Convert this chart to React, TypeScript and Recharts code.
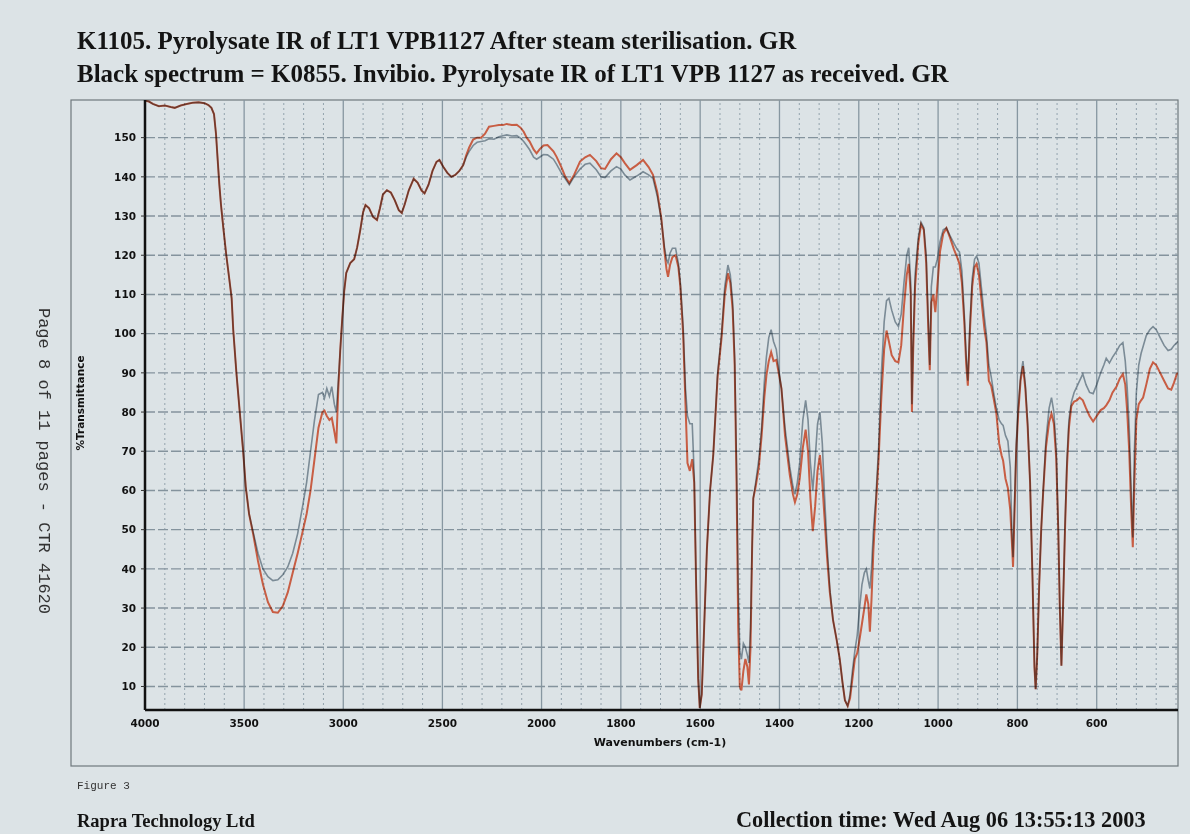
import React from 'react';
import { LineChart, Line, XAxis, YAxis, ReferenceLine } from 'recharts';

// Wavenumbers (cm-1), descending
const wavenumbers = [
  4000, 3980, 3960, 3930, 3900, 3870, 3850, 3820, 3790, 3760, 3730, 3700, 3680, 3665, 3652, 3642, 3633, 3625, 3617, 3605,
  3590, 3575, 3563, 3555, 3539, 3522, 3505, 3492, 3475, 3455, 3430, 3405, 3380, 3355, 3330, 3305, 3280, 3255, 3230, 3205,
  3185, 3165, 3145, 3125, 3105, 3095, 3083, 3070, 3058, 3045, 3035, 3025, 3015, 3005, 2995, 2985, 2965, 2945, 2930, 2914,
  2900, 2888, 2870, 2850, 2830, 2815, 2800, 2780, 2760, 2740, 2720, 2705, 2690, 2670, 2645, 2625, 2605, 2590, 2570, 2550,
  2530, 2515, 2495, 2475, 2455, 2435, 2415, 2395, 2380, 2365, 2345, 2325, 2305, 2285, 2265, 2240, 2215, 2195, 2175, 2150,
  2125, 2105, 2090, 2075, 2060, 2040, 2025, 2010, 1995, 1985, 1970, 1962, 1950, 1940, 1930, 1918, 1903, 1890, 1878, 1862,
  1850, 1840, 1825, 1811, 1800, 1790, 1777, 1760, 1744, 1730, 1719, 1708, 1698, 1690, 1685, 1681, 1676, 1670, 1662, 1655,
  1650, 1643, 1637, 1632, 1626, 1620, 1615, 1610, 1605, 1601, 1596, 1590, 1583, 1575, 1567, 1556, 1546, 1538, 1530, 1524,
  1518, 1513, 1508, 1504, 1500, 1496, 1491, 1486, 1481, 1477, 1473, 1469, 1466, 1460, 1452, 1445, 1438, 1433, 1427, 1421,
  1415, 1408, 1402, 1395, 1386, 1374, 1366, 1361, 1355, 1349, 1341, 1334, 1328, 1322, 1316, 1310, 1304, 1298, 1292, 1287,
  1280, 1273, 1265, 1256, 1248, 1241, 1235, 1228, 1222, 1216, 1210, 1204, 1198, 1192, 1186, 1181, 1176, 1172, 1168, 1163,
  1157, 1150, 1143, 1136, 1130, 1124, 1117, 1108, 1100, 1093, 1086, 1079, 1074, 1069, 1066, 1063, 1058, 1050, 1043, 1036,
  1030, 1025, 1021, 1017, 1012, 1007, 1002, 995, 987, 979, 970, 960, 952, 946, 940, 934, 929, 925, 920, 914,
  908, 903, 897, 890, 883, 878, 872, 866, 860, 853, 846, 840, 836, 830, 824, 818, 814, 811, 807, 803,
  798, 792, 786, 780, 774, 768, 762, 757, 754, 750, 745, 740, 735, 728, 720, 714, 708, 702, 697, 693,
  689, 685, 680, 675, 670, 664, 657, 650, 643, 635, 627, 618, 609, 600, 590, 582, 576, 568, 560, 550,
  542, 534, 528, 523, 518, 513, 509, 505, 500, 494, 488, 483, 475, 466, 458, 450, 440, 430, 420, 412,
  405, 398, 395,
];

// K1105 – after steam sterilisation (red spectrum), %T
const afterSterilisation = [
  159.4, 159.2, 158.6, 158.0, 158.2, 157.8, 157.6, 158.2, 158.6, 158.9, 159.0, 158.8, 158.3, 157.6, 156.0, 151.0, 144.0, 138.0, 133.0, 127.0,
  120.0, 114.0, 109.0, 101.0, 90.0, 80.0, 70.0, 61.0, 54.0, 49.0, 42.0, 36.0, 31.5, 29.0, 28.8, 30.5, 34.0, 39.0, 44.0, 49.5,
  54.0, 60.0, 68.0, 76.0, 80.0, 80.4, 79.0, 78.0, 78.5, 75.0, 72.0, 86.0, 96.0, 104.0, 111.0, 115.5, 118.0, 119.0, 122.0, 126.5,
  131.0, 132.8, 132.0, 129.8, 129.0, 132.0, 135.5, 136.6, 136.0, 134.0, 131.5, 130.8, 133.0, 136.5, 139.5, 138.5, 136.5, 135.8, 138.0, 141.5,
  143.8, 144.3, 142.5, 141.0, 140.0, 140.5, 141.5, 143.0, 145.5, 147.5, 149.5, 150.0, 150.0, 151.0, 152.8, 153.0, 153.2, 153.2, 153.5, 153.2,
  153.3, 152.5, 151.5, 150.0, 149.0, 147.0, 146.0, 147.0, 148.0, 148.1, 146.5, 145.1, 142.5, 140.0, 138.4, 140.5, 143.9, 145.0, 145.6, 144.0,
  142.2, 142.0, 144.5, 146.0, 145.0, 143.5, 141.8, 143.0, 144.3, 142.5, 140.5, 136.0, 129.5, 121.0, 116.5, 114.5, 117.5, 119.5, 120.0, 117.0,
  112.0, 100.0, 82.0, 67.0, 65.0, 68.0, 62.0, 35.0, 12.0, 4.5, 8.0, 25.0, 45.0, 60.0, 69.0, 89.0, 99.0, 110.0, 115.4, 113.0,
  106.0, 92.0, 60.0, 25.0, 10.0, 9.0, 14.0, 17.0, 15.0, 10.5, 20.0, 45.0, 58.0, 61.0, 66.0, 74.0, 84.0, 89.3, 93.0, 95.3,
  93.0, 93.3, 90.0, 86.0, 74.0, 64.0, 59.0, 57.0, 59.0, 63.0, 71.0, 75.5, 70.0, 58.0, 49.6, 56.0, 65.0, 69.0, 62.0, 54.0,
  43.0, 34.0, 27.0, 22.0, 17.0, 11.0, 6.5, 5.0, 7.0, 12.0, 17.0, 18.5, 22.0, 26.0, 30.0, 33.5, 31.0, 24.0, 32.0, 45.0,
  56.0, 68.0, 84.0, 96.0, 100.8, 98.0, 94.5, 93.0, 92.7, 97.0, 107.0, 115.0, 117.8, 110.0, 80.0, 95.0, 112.0, 123.0, 127.9, 126.5,
  118.0, 102.0, 90.7, 108.0, 110.0, 105.5, 112.0, 121.0, 125.5, 126.9, 124.5, 121.5, 119.5, 117.8, 113.0, 103.0, 92.0, 86.7, 100.0, 112.0,
  117.0, 117.8, 115.0, 108.0, 101.0, 97.7, 88.0, 86.7, 83.5, 79.6, 72.0, 69.0, 67.6, 63.0, 60.6, 55.0, 47.0, 40.5, 55.0, 70.0,
  79.6, 88.0, 91.7, 86.0, 76.0, 62.0, 38.0, 15.0, 9.3, 18.0, 36.0, 50.0, 59.6, 71.0, 77.5, 79.6, 77.0, 68.0, 50.0, 30.0,
  15.3, 30.0, 50.0, 66.0, 76.0, 81.5, 82.7, 83.0, 83.7, 83.0, 81.0, 79.0, 77.6, 79.0, 80.5, 81.0, 81.7, 83.0, 85.0, 86.5,
  88.5, 89.7, 87.0, 80.0, 70.0, 55.0, 45.5, 62.0, 78.0, 82.0, 83.0, 83.7, 87.0, 91.0, 92.7, 92.0, 90.0, 88.0, 86.0, 85.7,
  87.5, 89.7, 90.0,
];

// K0855 – as received (black spectrum), %T
const asReceived = [
  159.4, 159.2, 158.6, 158.0, 158.2, 157.8, 157.6, 158.2, 158.6, 158.9, 159.0, 158.8, 158.3, 157.6, 156.0, 151.0, 144.0, 138.0, 133.0, 127.0,
  120.0, 114.0, 109.0, 101.0, 90.0, 80.0, 70.0, 61.0, 54.0, 49.5, 44.0, 40.0, 38.0, 37.0, 37.2, 38.5, 40.5, 44.0, 49.0, 56.0,
  62.0, 70.0, 78.0, 84.5, 85.0, 83.5, 86.0, 84.0, 86.5, 82.0, 80.0, 88.0, 96.0, 104.0, 111.0, 115.5, 118.0, 119.0, 122.0, 126.5,
  131.0, 132.8, 132.0, 129.8, 129.0, 132.0, 135.5, 136.6, 136.0, 134.0, 131.5, 130.8, 133.0, 136.5, 139.5, 138.5, 136.5, 135.8, 138.0, 141.5,
  143.8, 144.3, 142.5, 141.0, 140.0, 140.5, 141.5, 143.0, 145.0, 146.5, 148.0, 148.8, 149.0, 149.2, 149.7, 149.6, 150.2, 150.5, 150.7, 150.4,
  150.5, 149.8, 149.0, 148.0, 146.9, 145.0, 144.5, 145.0, 145.7, 145.6, 144.5, 143.2, 141.0, 139.5, 138.0, 140.0, 142.0, 143.2, 143.5, 141.8,
  140.0, 139.8, 141.5, 142.6, 142.0, 140.5, 139.2, 140.2, 141.3, 140.5, 139.6, 135.0, 129.0, 122.0, 119.0, 118.0, 120.5, 121.8, 121.8, 118.0,
  113.0, 102.0, 86.0, 79.0, 77.0, 77.0, 64.0, 36.0, 12.0, 4.5, 8.0, 25.0, 45.0, 60.0, 69.0, 90.0, 100.0, 112.0, 117.5, 115.0,
  108.0, 94.0, 65.0, 35.0, 19.0, 17.0, 21.0, 20.0, 18.0, 16.0, 25.0, 46.0, 58.0, 62.0, 68.0, 76.0, 88.0, 94.0, 99.0, 101.0,
  98.0, 96.0, 91.0, 86.0, 76.0, 66.0, 61.0, 59.0, 62.0, 67.0, 78.0, 83.0, 78.0, 67.0, 60.0, 68.0, 77.0, 80.0, 72.0, 60.0,
  46.0, 35.0, 27.0, 22.0, 17.0, 11.0, 6.5, 5.0, 8.0, 14.0, 19.0, 23.0, 30.0, 36.0, 39.0, 40.0, 37.0, 35.0, 40.0, 50.0,
  58.0, 71.0, 90.0, 103.0, 108.4, 109.0, 106.0, 103.0, 101.8, 105.0, 113.0, 120.0, 121.9, 113.0, 82.0, 98.0, 115.0, 124.5, 128.4, 127.0,
  120.0, 104.0, 92.0, 112.0, 117.0, 117.0, 119.0, 123.5, 126.5, 127.0, 125.0, 123.0, 121.5, 120.8, 116.0, 105.0, 94.0, 88.0, 102.0, 114.0,
  119.0, 119.8, 118.0, 111.0, 104.0, 99.7, 92.0, 89.0, 85.0, 81.0, 78.0, 77.0, 76.6, 74.0, 72.6, 66.0, 50.0, 43.0, 58.0, 72.0,
  81.0, 89.0, 93.0, 87.0, 77.0, 62.0, 38.0, 15.0, 9.3, 18.0, 36.0, 50.0, 60.0, 73.0, 81.0, 83.7, 80.0, 70.0, 51.0, 30.0,
  15.3, 30.0, 51.0, 68.0, 78.0, 82.5, 85.0, 86.5, 88.0, 89.7, 87.0, 85.0, 84.7, 87.0, 90.0, 92.0, 93.7, 92.5, 94.0, 95.5,
  97.0, 97.7, 93.0, 86.0, 76.0, 60.0, 48.0, 70.0, 85.0, 92.0, 95.0, 96.7, 99.5, 101.0, 101.8, 101.0, 99.0, 97.0, 95.7, 96.0,
  97.0, 97.7, 98.0,
];

const xTickLabels = [4000, 3500, 3000, 2500, 2000, 1800, 1600, 1400, 1200, 1000, 800, 600];
const yTickLabels = [10, 20, 30, 40, 50, 60, 70, 80, 90, 100, 110, 120, 130, 140, 150];
const majorGridX = [3500, 3000, 2500, 2000, 1800, 1600, 1400, 1200, 1000, 800, 600];
const minorGridX = [
  3900, 3800, 3700, 3600, 3400, 3300, 3200, 3100, 2900, 2800, 2700, 2600, 2400, 2300, 2200, 2100,
  1950, 1900, 1850, 1750, 1700, 1650, 1550, 1500, 1450, 1350, 1300, 1250, 1150, 1100, 1050,
  950, 900, 850, 750, 700, 650, 550, 500, 450, 400,
];

// Instrument display: linear 4000-2000, then double scale (2x) below 2000 cm-1
const toU = (w: number) => (w >= 2000 ? 4000 - w : 2000 + (2000 - w) * 2);
const fromU = (u: number) => (u <= 2000 ? 4000 - u : 2000 - (u - 2000) / 2);

const data = wavenumbers.map((w, i) => ({
  u: toU(w),
  red: afterSterilisation[i],
  black: asReceived[i],
}));

const BG = '#dce3e6';
const tickStyle = { fill: '#111', fontSize: 10.5, fontWeight: 700, fontFamily: 'DejaVu Sans' };

export default function App() {
  return (
    <div style={{ position: 'absolute', left: 0, top: 0, width: 1190, height: 834, background: BG, overflow: 'hidden' }}>
      <style>{`.blend-line path { mix-blend-mode: multiply; }`}</style>
      <svg width={1190} height={834} style={{ position: 'absolute', left: 0, top: 0 }}>
        <rect x={71} y={100} width={1107} height={666} fill="none" stroke="#6f787d" strokeWidth={1.2} />
        <text x={77} y={49} fontFamily="Liberation Serif" fontWeight={700} fontSize={25} fill="#141414">
          K1105. Pyrolysate IR of LT1 VPB1127 After steam sterilisation. GR
        </text>
        <text x={77} y={82} fontFamily="Liberation Serif" fontWeight={700} fontSize={25} fill="#141414">
          Black spectrum = K0855. Invibio. Pyrolysate IR of LT1 VPB 1127 as received. GR
        </text>
        <text x={660} y={746} textAnchor="middle" fontFamily="DejaVu Sans" fontWeight={700} fontSize={11} fill="#111">
          Wavenumbers (cm-1)
        </text>
        <text x={0} y={0} transform="translate(84,403) rotate(-90)" textAnchor="middle" fontFamily="DejaVu Sans" fontWeight={700} fontSize={10.5} fill="#111">
          %Transmittance
        </text>
        <text x={0} y={0} transform="translate(39,461) rotate(90)" textAnchor="middle" fontFamily="Liberation Mono" fontSize={17} fill="#333">
          Page 8 of 11 pages - CTR 41620
        </text>
        <text x={77} y={789} fontFamily="Liberation Mono" fontSize={11} fill="#333">
          Figure 3
        </text>
        <text x={77} y={827} fontFamily="Liberation Serif" fontWeight={700} fontSize={18.5} fill="#141414">
          Rapra Technology Ltd
        </text>
        <text x={736} y={827} fontFamily="Liberation Serif" fontWeight={700} fontSize={22.3} fill="#141414">
          Collection time: Wed Aug 06 13:55:13 2003
        </text>
      </svg>
      <div style={{ position: 'absolute', left: 0, top: 0 }}>
        <LineChart width={1190} height={834} data={data} margin={{ top: 100, right: 12, bottom: 94, left: 85 }}>
          <XAxis
            type="number"
            dataKey="u"
            domain={[0, toU(395)]}
            ticks={xTickLabels.map(toU)}
            tickFormatter={(u: number) => String(Math.round(fromU(u)))}
            interval={0}
            allowDataOverflow
            height={30}
            axisLine={{ stroke: '#111', strokeWidth: 2.5 }}
            tickLine={false}
            tickMargin={4}
            tick={tickStyle}
          />
          <YAxis
            type="number"
            domain={[4, 159.6]}
            ticks={yTickLabels}
            interval={0}
            allowDataOverflow
            width={60}
            axisLine={{ stroke: '#111', strokeWidth: 2.5 }}
            tickLine={{ stroke: '#333' }}
            tickSize={4}
            tickMargin={5}
            tick={tickStyle}
          />
          {minorGridX.map((w) => (
            <ReferenceLine key={'mx' + w} x={toU(w)} stroke="#93a3ad" strokeWidth={1} strokeDasharray="2 3" ifOverflow="hidden" />
          ))}
          {majorGridX.map((w) => (
            <ReferenceLine key={'Mx' + w} x={toU(w)} stroke="#8797a1" strokeWidth={1.3} ifOverflow="hidden" />
          ))}
          {yTickLabels.map((v) => (
            <ReferenceLine key={'gy' + v} y={v} stroke="#84939d" strokeWidth={1.4} strokeDasharray="10 3" ifOverflow="hidden" />
          ))}
          <Line
            type="linear"
            dataKey="black"
            stroke="#8e9ca6"
            strokeWidth={1.6}
            dot={false}
            isAnimationActive={false}
            className="blend-line"
          />
          <Line
            type="linear"
            dataKey="red"
            stroke="#e8694b"
            strokeWidth={2}
            dot={false}
            isAnimationActive={false}
            className="blend-line"
          />
        </LineChart>
      </div>
    </div>
  );
}
